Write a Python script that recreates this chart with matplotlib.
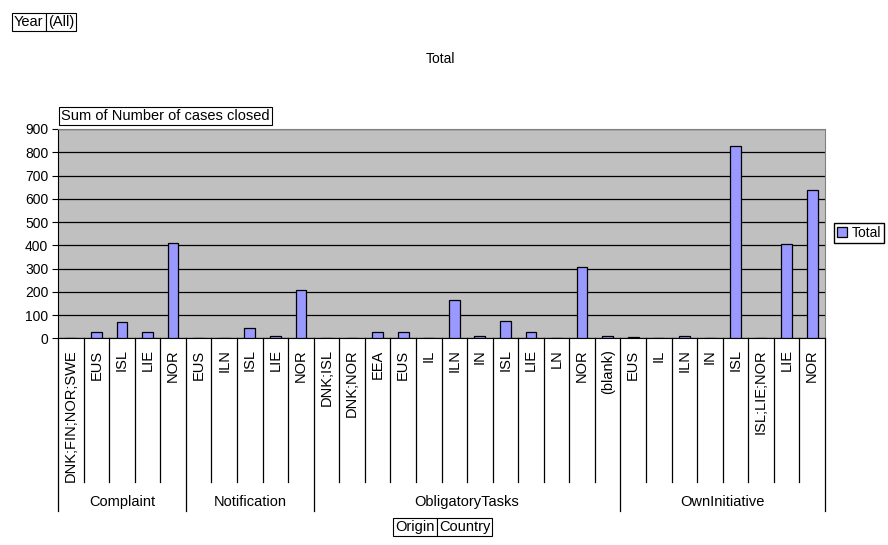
import matplotlib
matplotlib.use("Agg")
import matplotlib.pyplot as plt
import matplotlib.transforms as mtransforms
from matplotlib.lines import Line2D

plt.rcParams['font.family'] = ['Liberation Sans', 'DejaVu Sans']

# datos de la tabla dinamica (Origin / Country)
origins = ["Complaint", "Notification", "ObligatoryTasks", "OwnInitiative"]
countries_complaint = ["DNK;FIN;NOR;SWE", "EUS", "ISL", "LIE", "NOR"]
countries_notification = ["EUS", "ILN", "ISL", "LIE", "NOR"]
countries_obligatory = ["DNK;ISL", "DNK;NOR", "EEA", "EUS", "IL", "ILN", "IN",
                        "ISL", "LIE", "LN", "NOR", "(blank)"]
countries_own = ["EUS", "IL", "ILN", "IN", "ISL", "ISL;LIE;NOR", "LIE", "NOR"]

total_complaint = [1, 27, 72, 27, 409]
total_notification = [1, 1, 44, 10, 209]
total_obligatory = [1, 1, 26, 26, 1, 166, 11, 75, 27, 2, 305, 8]
total_own = [4, 1, 11, 3, 827, 1, 406, 638]

y_ticks = [0, 100, 200, 300, 400, 500, 600, 700, 800, 900]

grupos = [countries_complaint, countries_notification, countries_obligatory, countries_own]
countries = countries_complaint + countries_notification + countries_obligatory + countries_own
totales = total_complaint + total_notification + total_obligatory + total_own

W, H = 888, 545


def fx(x):
    return x / W


def fy(y):
    return 1 - y / H


fig = plt.figure(figsize=(W / 100, H / 100), dpi=100)
ax = fig.add_axes([fx(58), fy(338.3), fx(825) - fx(58), fy(129) - fy(338.3)])
ax.set_facecolor("#C0C0C0")

pos = list(range(len(countries)))
ax.bar(pos, totales, width=0.42, color="#9999FF", edgecolor="black", linewidth=0.9,
       label="Total", zorder=3)

ax.set_xlim(-0.5, len(countries) - 0.5)
ax.set_ylim(0, 900)
ax.set_yticks(y_ticks)
ax.yaxis.grid(True, color="black", linewidth=0.9)
ax.set_axisbelow(True)
ax.tick_params(axis="y", direction="out", length=4, width=0.8, labelsize=10, pad=3)
ax.set_xticks(pos)
ax.set_xticklabels(countries, rotation=90, va="top", ha="center", fontsize=10.5)
ax.tick_params(axis="x", length=0, pad=8)

for s in ["top", "right"]:
    ax.spines[s].set_color("#808080")
for s in ["left", "bottom"]:
    ax.spines[s].set_color("black")

# lineas separadoras del eje de categorias
trans = mtransforms.blended_transform_factory(ax.transData, fig.transFigure)
limites = [-0.5]
acum = -0.5
for g in grupos:
    acum += len(g)
    limites.append(acum)
for i in range(len(countries) + 1):
    xb = i - 0.5
    fondo = 510.7 if xb in limites else 481.7
    fig.add_artist(Line2D([xb, xb], [fy(338.3), fy(fondo)], transform=trans,
                          color="black", linewidth=0.9))

for k, g in enumerate(grupos):
    centro = (limites[k] + limites[k + 1]) / 2
    fig.text(centro, fy(501.7), origins[k], transform=trans, ha="center",
             va="center", fontsize=10.5)

fig.text(fx(440), fy(59), "Total", ha="center", va="center", fontsize=10)

caja = dict(boxstyle="square,pad=0.15", fc="white", ec="black", lw=0.8)
fig.text(fx(61), fy(116), "Sum of Number of cases closed", ha="left",
         va="center", fontsize=10.5, bbox=caja)

fig.canvas.draw()
rend = fig.canvas.get_renderer()


def par_cajas(x0, yc, a, b):
    t1 = fig.text(fx(x0), fy(yc), a, ha="left", va="center", fontsize=10.5, bbox=caja)
    fig.canvas.draw()
    e = t1.get_bbox_patch().get_window_extent(rend)
    pad = 0.15 * 10.5 * 100 / 72
    fig.text(fx(e.x1 + pad), fy(yc), b, ha="left", va="center", fontsize=10.5, bbox=caja)


par_cajas(14, 22, "Year", "(All)")
par_cajas(395, 527, "Origin", "Country")

ax.legend(loc="center left", bbox_to_anchor=(fx(834), fy(233)),
          bbox_transform=fig.transFigure, fancybox=False, edgecolor="black",
          framealpha=1, handlelength=0.7, handleheight=0.7, handletextpad=0.3,
          borderpad=0.25, borderaxespad=0, fontsize=10)

fig.savefig("out.png", dpi=100)
